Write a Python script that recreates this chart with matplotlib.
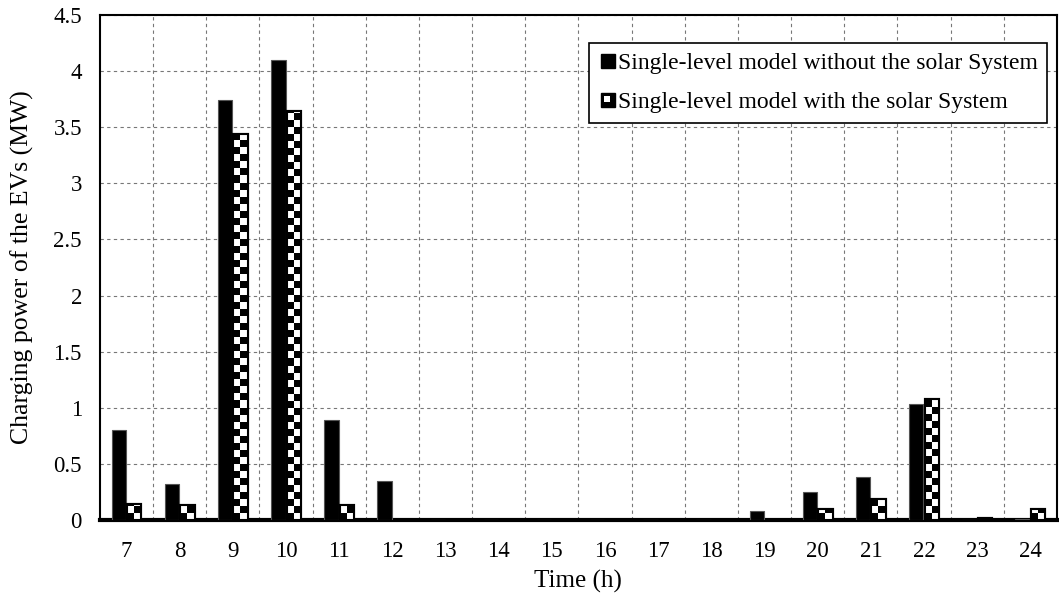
import numpy as np
import matplotlib
matplotlib.use("Agg")
import matplotlib.pyplot as plt
from matplotlib.patches import Rectangle, Patch
from matplotlib.legend_handler import HandlerBase

hours = [7, 8, 9, 10, 11, 12, 13, 14, 15, 16, 17, 18, 19, 20, 21, 22, 23, 24]
without_solar = [0.80, 0.32, 3.74, 4.10, 0.89, 0.35, 0, 0, 0, 0, 0, 0, 0.08, 0.25, 0.38, 1.03, 0.0, 0.005]
with_solar = [0.14, 0.13, 3.44, 3.64, 0.13, 0, 0, 0, 0, 0, 0, 0, 0, 0.10, 0.19, 1.08, 0.015, 0.10]
labels = ["Single-level model without the solar System", "Single-level model with the solar System"]

plt.rcParams["font.family"] = ["Liberation Serif", "DejaVu Serif"]
plt.rcParams["font.size"] = 17


class CheckerHandler(HandlerBase):
    # bordered square with a white block inside, like the excel legend key
    def create_artists(self, legend, orig_handle, xdescent, ydescent, width, height, fontsize, trans):
        s = height * 0.85
        x0 = width - s - xdescent
        y0 = -ydescent + (height - s) / 2
        arts = [Rectangle((x0, y0), s, s, facecolor="black", edgecolor="black", lw=1, transform=trans)]
        arts.append(Rectangle((x0 + s * 0.2, y0 + s * 0.35), s * 0.45, s * 0.45,
                              facecolor="white", edgecolor="none", transform=trans))
        return arts


class SquareHandler(HandlerBase):
    def create_artists(self, legend, orig_handle, xdescent, ydescent, width, height, fontsize, trans):
        s = height * 0.85
        return [Rectangle((width - s - xdescent, -ydescent + (height - s) / 2), s, s,
                          facecolor="black", edgecolor="black", transform=trans)]


fig = plt.figure(figsize=(10.59, 5.97), dpi=100)
ax = fig.add_axes([0.0944, 0.129, 0.9036, 0.846])

x = np.arange(len(hours))
w = 0.27
ax.bar(x - w / 2 - 0.01, without_solar, w, color="black", edgecolor="#555555", lw=0.8, zorder=3)
bars2 = ax.bar(x + w / 2 + 0.01, with_solar, w, color="white", edgecolor="black", lw=1.5, zorder=3)

# checkerboard fill of the second series
sq = 0.0625
for b, v in zip(bars2, with_solar):
    if v <= 0:
        continue
    nrows = int(np.ceil(v / sq)) + 1
    pat = (np.indices((nrows, 2)).sum(axis=0) % 2).astype(float)
    bx = b.get_x()
    im = ax.imshow(pat, cmap="gray", extent=(bx, bx + b.get_width(), 0, nrows * sq),
                   origin="lower", aspect="auto", interpolation="nearest", zorder=3.5)
    im.set_clip_path(b)
    ax.add_patch(Rectangle((bx, 0), b.get_width(), v, fill=False, edgecolor="black", lw=1.5, zorder=4))

ax.set_xlim(-0.5, len(hours) - 0.5)
ax.set_ylim(0, 4.5)
ax.set_yticks(np.arange(0, 4.51, 0.5))
ax.set_yticklabels(["0", "0.5", "1", "1.5", "2", "2.5", "3", "3.5", "4", "4.5"])
ax.set_xticks(x)
ax.set_xticklabels([str(h) for h in hours])
ax.set_xticks(np.arange(0.5, len(hours) - 1, 1), minor=True)
ax.tick_params(axis="both", which="both", length=0, labelsize=16.5)
ax.tick_params(axis="y", pad=13)
ax.tick_params(axis="x", pad=15)
ax.grid(axis="y", which="major", ls=(0, (3, 3)), color="#777777", lw=0.8, zorder=0)
ax.grid(axis="x", which="minor", ls=(0, (3, 3)), color="#777777", lw=0.8, zorder=0)
for s in ax.spines.values():
    s.set_linewidth(1.5)
ax.spines["bottom"].set_linewidth(3)

ax.set_xlabel("Time (h)", fontsize=18, labelpad=6)
ax.set_ylabel("Charging power of the EVs (MW)", fontsize=18.5, labelpad=14)

h1 = Patch(color="black")
h2 = Patch(color="white")
leg = ax.legend([h1, h2], labels, loc="upper right", bbox_to_anchor=(0.9896, 0.9446),
                handler_map={h1: SquareHandler(), h2: CheckerHandler()},
                handlelength=0.7, handletextpad=0.1, labelspacing=0.75,
                fancybox=False, edgecolor="black", framealpha=1, borderpad=0.4,
                borderaxespad=0, fontsize=17)
leg.get_frame().set_linewidth(1.2)

fig.savefig("out.png", dpi=100)
